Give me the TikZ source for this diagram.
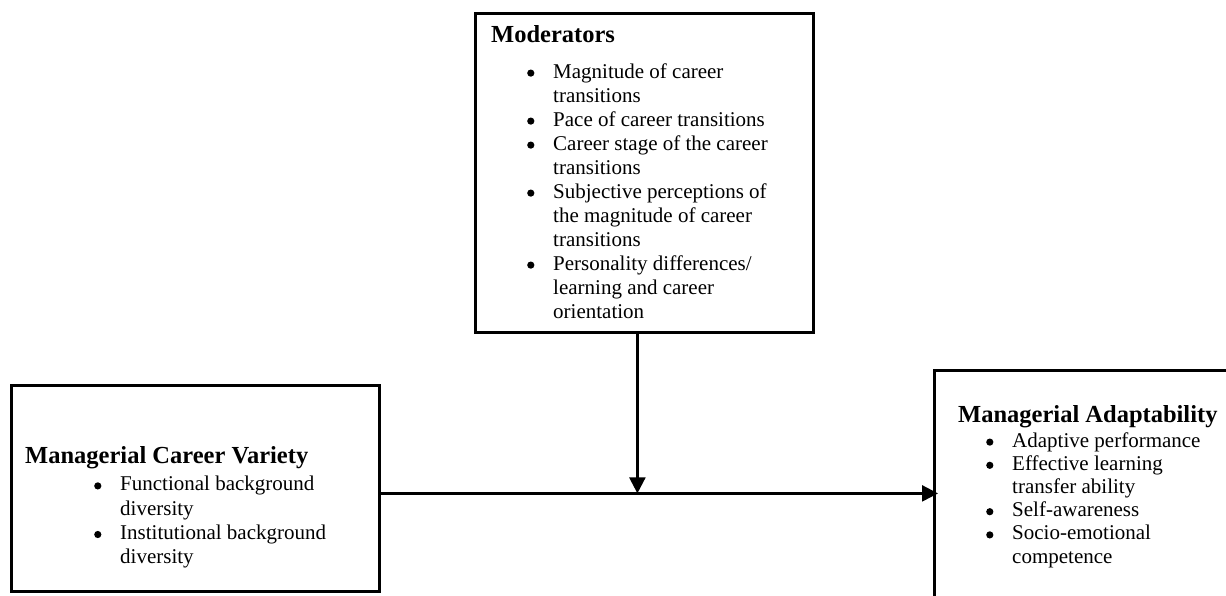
\documentclass[tikz,border=0pt]{standalone}
\usepackage{fontspec}
\setmainfont{Liberation Serif}
\usetikzlibrary{arrows.meta,positioning}

\newcommand{\bigdot}{\tikz[baseline=-5pt]\fill (0,0) circle[radius=3.6pt];}
\newcommand{\bitem}[2]{\hspace*{#1pt}\makebox[26pt][l]{\bigdot}#2}
\newcommand{\bcont}[2]{\hspace*{#1pt}\hspace*{26pt}#2}
\newcommand{\boxhead}[1]{{\fontsize{24.5}{24}\selectfont\bfseries #1}}

\tikzset{
  framebox/.style={draw, line width=2.8pt, anchor=north west, inner sep=0pt},
  boxtext/.style={anchor=north west, inner sep=0pt, align=left, font=\fontsize{21}{#1}\selectfont},
  boxtext/.default=23.7,
  link/.style={line width=2.4pt, -{Triangle[length=16pt,width=16pt]}}
}

\begin{document}
\begin{tikzpicture}[x=1pt,y=-1pt]
    \useasboundingbox (0,0) rectangle (1226,596);
    \clip (0,0) rectangle (1226,596);

    \node[framebox, minimum width=338pt, minimum height=319pt] (mod) at (474,12) {};
    \node[framebox, minimum width=368pt, minimum height=206pt] (mcv) at (10,384) {};
    \node[framebox, minimum width=320pt, minimum height=250pt] (ma) at (933,369) {};

    \node[boxtext=24] (modtext) at ([shift={(17,13.4)}]mod.north west) {\boxhead{Moderators}\\[11.5pt]
        \bitem{36}{Magnitude of career}\\
        \bcont{36}{transitions}\\
        \bitem{36}{Pace of career transitions}\\
        \bitem{36}{Career stage of the career}\\
        \bcont{36}{transitions}\\
        \bitem{36}{Subjective perceptions of}\\
        \bcont{36}{the magnitude of career}\\
        \bcont{36}{transitions}\\
        \bitem{36}{Personality differences/}\\
        \bcont{36}{learning and career}\\
        \bcont{36}{orientation}};

    \node[boxtext=24.3] (mcvtext) at ([shift={(15,62.4)}]mcv.north west) {\boxhead{Managerial Career Variety}\\[3pt]
        \bitem{69}{Functional background}\\
        \bcont{69}{diversity}\\
        \bitem{69}{Institutional background}\\
        \bcont{69}{diversity}};

    \node[boxtext=23.2] (matext) at ([shift={(25,36.2)}]ma.north west) {\boxhead{Managerial Adaptability}\\[1.5pt]
        \bitem{28}{Adaptive performance}\\
        \bitem{28}{Effective learning}\\
        \bcont{28}{transfer ability}\\
        \bitem{28}{Self-awareness}\\
        \bitem{28}{Socio-emotional}\\
        \bcont{28}{competence}};

    \coordinate (in) at ([yshift=-5pt]mcv.east);
    \coordinate (out) at (in -| ma.west);
    \coordinate (top) at ([xshift=-7pt]mod.south);
    \draw[link] (in) -- ([xshift=5pt]out);
    \draw[link] (top) -- (top |- in);
\end{tikzpicture}
\end{document}
